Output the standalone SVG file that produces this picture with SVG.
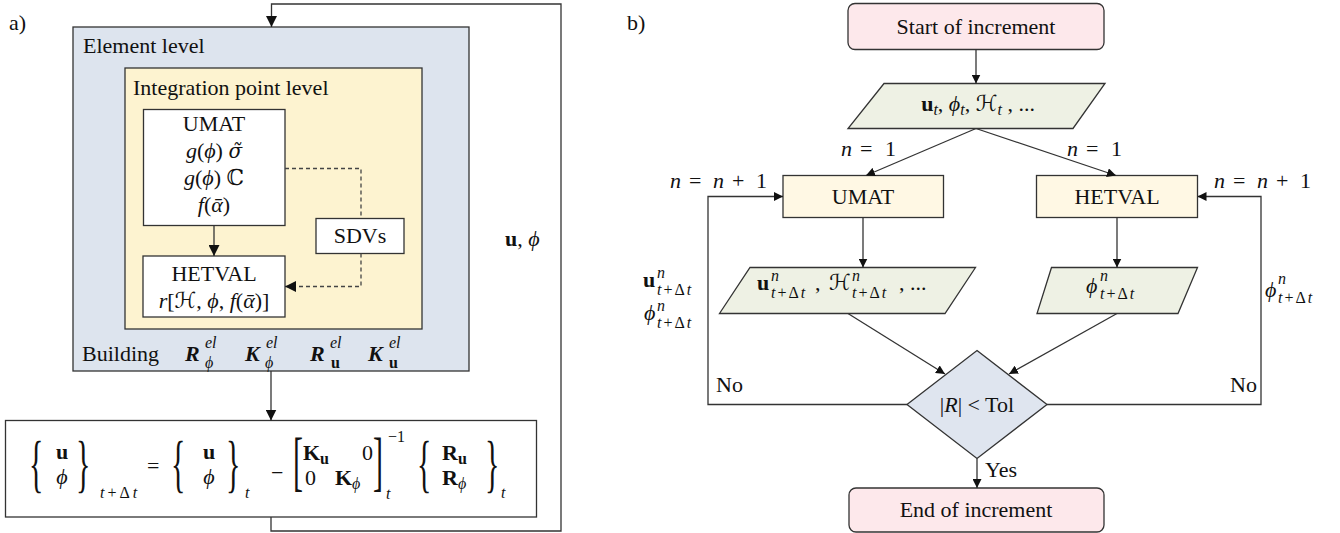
<svg xmlns="http://www.w3.org/2000/svg" width="1340" height="533" viewBox="0 0 1340 533">
<defs>
<style>
.t{font-family:"Liberation Serif","DejaVu Serif","DejaVu Sans",serif;font-size:22px;fill:#111}
.i{font-style:italic}
.n{font-style:normal}
.b{font-weight:bold}
.s{font-size:16px}
.m{text-anchor:middle}
.br{font-size:30px}
.dv{font-family:"DejaVu Serif",serif;font-size:20px}
.box{stroke:#333;stroke-width:1.3}
.ln{fill:none;stroke:#333;stroke-width:1.3}
.dash{fill:none;stroke:#444;stroke-width:1.3;stroke-dasharray:4 3}
</style>
<marker id="ha" viewBox="0 0 10 10" refX="10" refY="5" markerWidth="11" markerHeight="11" markerUnits="userSpaceOnUse" orient="auto"><path d="M0,0 L10,5 L0,10 z" fill="#111"/></marker>
<marker id="hb" viewBox="0 0 10 10" refX="10" refY="5" markerWidth="9" markerHeight="9" markerUnits="userSpaceOnUse" orient="auto"><path d="M0,0 L10,5 L0,10 z" fill="#111"/></marker>
</defs>
<rect width="1340" height="533" fill="#fff"/>

<!-- panel a -->
<text class="t" x="9" y="30">a)</text>
<g id="element">
<rect class="box" x="73" y="27" width="396" height="344" fill="#dde4ee"/>
<text class="t" x="83" y="53">Element level</text>
<text class="t" x="82" y="361">Building</text>
<text class="t b i" x="185" y="361">R</text>
<text class="t s i" x="205" y="348">el</text>
<text class="t s i" x="205" y="368">ϕ</text>
<text class="t b i" x="245" y="361">K</text>
<text class="t s i" x="266" y="348">el</text>
<text class="t s i" x="265" y="368">ϕ</text>
<text class="t b i" x="310" y="361">R</text>
<text class="t s i" x="330" y="348">el</text>
<text class="t s b" x="331" y="368">u</text>
<text class="t b i" x="368" y="361">K</text>
<text class="t s i" x="389" y="348">el</text>
<text class="t s b" x="389" y="368">u</text>
</g>
<g id="integration">
<rect class="box" x="125" y="68" width="297" height="261" fill="#fdf3d0"/>
<text class="t" x="133" y="95">Integration point level</text>
</g>
<g id="umat-a">
<rect class="box" x="143.5" y="109.5" width="141.5" height="116" fill="#fff"/>
<text class="t m" x="214" y="131">UMAT</text>
<text class="t m" x="214" y="158"><tspan class="i">g</tspan>(<tspan class="i">ϕ</tspan>) <tspan class="dv i">σ̃</tspan></text>
<text class="t m" x="214" y="185"><tspan class="i">g</tspan>(<tspan class="i">ϕ</tspan>) ℂ</text>
<text class="t m" x="214" y="212"><tspan class="i">f</tspan>(<tspan class="i">ᾱ</tspan>)</text>
</g>
<g id="hetval-a">
<rect class="box" x="143" y="256" width="142" height="61" fill="#fff"/>
<text class="t m" x="214" y="281">HETVAL</text>
<text class="t m" x="214" y="308"><tspan class="i">r</tspan>[ℋ, <tspan class="i">ϕ</tspan>, <tspan class="i">f</tspan>(<tspan class="i">ᾱ</tspan>)]</text>
</g>
<g id="sdvs">
<rect class="box" x="316" y="218.5" width="88" height="35" fill="#fff"/>
<text class="t m" x="360" y="243">SDVs</text>
</g>
<g id="equation">
<rect class="box" x="5.5" y="420.5" width="531" height="96.5" fill="#fff"/>
<text class="t br" transform="translate(29,485) scale(1,2.14)">{</text>
<text class="t b m" x="62" y="459">u</text>
<text class="t i m" x="62" y="484">ϕ</text>
<text class="t br" transform="translate(76,485) scale(1,2.14)">}</text>
<text class="t s" x="100" y="498" letter-spacing="3"><tspan class="i">t</tspan>+Δ<tspan class="i">t</tspan></text>
<text class="t" x="147" y="473">=</text>
<text class="t br" transform="translate(171,485) scale(1,2.14)">{</text>
<text class="t b m" x="209" y="459">u</text>
<text class="t i m" x="209" y="484">ϕ</text>
<text class="t br" transform="translate(226,485) scale(1,2.14)">}</text>
<text class="t s i" x="245" y="498">t</text>
<text class="t" x="271" y="480">−</text>
<text class="t br" transform="translate(293,483) scale(1,2.2)">[</text>
<text class="t b" x="303" y="460">K</text>
<text class="t s b" x="320" y="464">u</text>
<text class="t" x="362" y="460">0</text>
<text class="t" x="305" y="485">0</text>
<text class="t b" x="335" y="485">K</text>
<text class="t s i" x="352" y="489">ϕ</text>
<text class="t br" transform="translate(373,483) scale(1,2.2)">]</text>
<text class="t s i" x="386" y="499">t</text>
<text class="t s" x="388" y="442">−1</text>
<text class="t br" transform="translate(417,485) scale(1,2.14)">{</text>
<text class="t b" x="442" y="460">R</text>
<text class="t s b" x="458" y="464">u</text>
<text class="t b" x="442" y="485">R</text>
<text class="t s i" x="458" y="489">ϕ</text>
<text class="t br" transform="translate(485,485) scale(1,2.14)">}</text>
<text class="t s i" x="501" y="498">t</text>
</g>
<g id="connectors-a">
<path class="ln" d="M271,517 V531 H561 V4 H271.5 V27" marker-end="url(#ha)"/>
<path class="ln" d="M271,371 V420.5" marker-end="url(#ha)"/>
<path class="ln" d="M214,225.5 V256" marker-end="url(#ha)"/>
<path class="dash" d="M285,168.5 H361 V218.5"/>
<path class="dash" d="M361,253.5 V286.5 H285" marker-end="url(#ha)"/>
<text class="t" x="505" y="246"><tspan class="b">u</tspan>, <tspan class="i">ϕ</tspan></text>
</g>

<!-- panel b -->
<text class="t" x="627" y="30">b)</text>
<g id="start">
<rect class="box" x="848" y="3.5" width="256" height="46" rx="7" fill="#fde8eb"/>
<text class="t m" x="976" y="34">Start of increment</text>
</g>
<g id="input">
<path class="box" d="M884,83.5 H1105 L1073,128.5 H848 Z" fill="#eef1e4"/>
<text class="t m" x="978" y="111"><tspan class="b">u</tspan><tspan class="s i" dy="4">t</tspan><tspan dy="-4">, </tspan><tspan class="i">ϕ</tspan><tspan class="s i" dy="4">t</tspan><tspan dy="-4">, ℋ</tspan><tspan class="s i" dy="4">t</tspan><tspan dy="-4"> , ...</tspan></text>
</g>
<g id="umat-b">
<rect class="box" x="783" y="175.5" width="160.5" height="42" fill="#fff8e4"/>
<text class="t m" x="863" y="204">UMAT</text>
</g>
<g id="hetval-b">
<rect class="box" x="1036.5" y="175.5" width="161" height="42" fill="#fff8e4"/>
<text class="t m" x="1117" y="204">HETVAL</text>
</g>
<g id="out-umat">
<path class="box" d="M750,267.5 H975.5 L945,313.5 H719.5 Z" fill="#eef1e4"/>
<text class="t b" x="757" y="290">u</text>
<text class="t s i" x="771" y="281">n</text>
<text class="t s" x="771" y="298" letter-spacing="2"><tspan class="i">t</tspan>+Δ<tspan class="i">t</tspan></text>
<text class="t" x="815" y="290">,</text>
<text class="t" x="829" y="290">ℋ</text>
<text class="t s i" x="852" y="281">n</text>
<text class="t s" x="852" y="298" letter-spacing="2"><tspan class="i">t</tspan>+Δ<tspan class="i">t</tspan></text>
<text class="t" x="899" y="290">, ...</text>
</g>
<g id="out-hetval">
<path class="box" d="M1051.5,267.5 H1197.5 L1178,313.5 H1037 Z" fill="#eef1e4"/>
<text class="t i" x="1086" y="293">ϕ</text>
<text class="t s i" x="1100" y="281">n</text>
<text class="t s" x="1100" y="299" letter-spacing="2"><tspan class="i">t</tspan>+Δ<tspan class="i">t</tspan></text>
</g>
<g id="check">
<path class="box" d="M977,350.5 L1047,404.5 L977,458.5 L907,404.5 Z" fill="#dfe5ef"/>
<text class="t m" x="977" y="412">|<tspan class="i">R</tspan>| &lt; Tol</text>
</g>
<g id="end">
<rect class="box" x="849" y="488" width="255" height="44" rx="7" fill="#fde8eb"/>
<text class="t m" x="976" y="517">End of increment</text>
</g>
<g id="connectors-b">
<path class="ln" d="M976,49.5 V83.5" marker-end="url(#hb)"/>
<path class="ln" d="M976,128.5 L866,175.5" marker-end="url(#hb)"/>
<path class="ln" d="M976,128.5 L1116,175.5" marker-end="url(#hb)"/>
<path class="ln" d="M863,217.5 V267.5" marker-end="url(#hb)"/>
<path class="ln" d="M1117,217.5 V267.5" marker-end="url(#hb)"/>
<path class="ln" d="M848,313.5 L945,374" marker-end="url(#hb)"/>
<path class="ln" d="M1117,313.5 L1009,374" marker-end="url(#hb)"/>
<path class="ln" d="M907,404.5 H708 V196.5 H783" marker-end="url(#hb)"/>
<path class="ln" d="M1047,404.5 H1261 V196.5 H1197.5" marker-end="url(#hb)"/>
<path class="ln" d="M977,458.5 V488" marker-end="url(#hb)"/>
<text class="t" y="156"><tspan class="i" x="841">n</tspan><tspan x="860">=</tspan><tspan x="885">1</tspan></text>
<text class="t" y="156"><tspan class="i" x="1067">n</tspan><tspan x="1086">=</tspan><tspan x="1111">1</tspan></text>
<text class="t" y="188"><tspan class="i" x="670">n</tspan><tspan x="689">=</tspan><tspan class="i" x="713">n</tspan><tspan x="732">+</tspan><tspan x="756">1</tspan></text>
<text class="t" y="188"><tspan class="i" x="1214">n</tspan><tspan x="1233">=</tspan><tspan class="i" x="1257">n</tspan><tspan x="1276">+</tspan><tspan x="1300">1</tspan></text>
<text class="t b" x="643" y="287">u</text>
<text class="t s i" x="657" y="278">n</text>
<text class="t s" x="657" y="295" letter-spacing="2"><tspan class="i">t</tspan>+Δ<tspan class="i">t</tspan></text>
<text class="t i" x="644" y="320">ϕ</text>
<text class="t s i" x="657" y="311">n</text>
<text class="t s" x="657" y="328" letter-spacing="2"><tspan class="i">t</tspan>+Δ<tspan class="i">t</tspan></text>
<text class="t i" x="1265" y="297">ϕ</text>
<text class="t s i" x="1278" y="284">n</text>
<text class="t s" x="1278" y="303" letter-spacing="2"><tspan class="i">t</tspan>+Δ<tspan class="i">t</tspan></text>
<text class="t" x="716" y="392">No</text>
<text class="t" x="1230" y="392">No</text>
<text class="t" x="985" y="477">Yes</text>
</g>
</svg>
